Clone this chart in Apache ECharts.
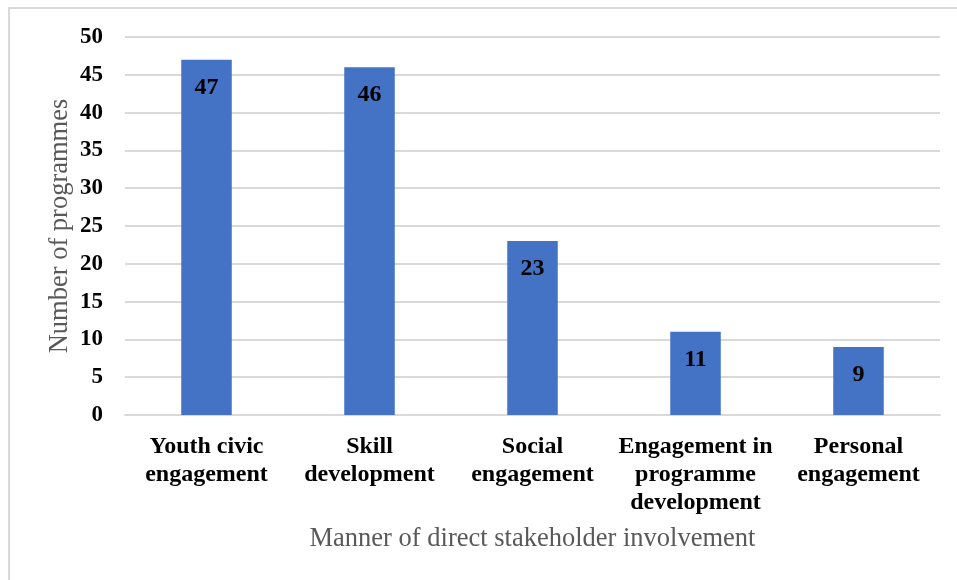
<!DOCTYPE html>
<html>
<head>
<meta charset="utf-8">
<script src="https://cdn.jsdelivr.net/npm/echarts@6/dist/echarts.min.js"></script>
<style>
  html, body { margin: 0; padding: 0; background: #fff; }
  #chart { width: 957px; height: 580px; }
</style>
</head>
<body>
<div id="chart"></div>
<script>
// Programmes by manner of direct stakeholder involvement
const categories = [
  'Youth civic\nengagement',
  'Skill\ndevelopment',
  'Social\nengagement',
  'Engagement in\nprogramme\ndevelopment',
  'Personal\nengagement'
];
const programmeCounts = [47, 46, 23, 11, 9];
const yTicks = { min: 0, max: 50, interval: 5 };

const serif = '"Liberation Serif", "Times New Roman", serif';

const chart = echarts.init(document.getElementById('chart'));
chart.setOption({
  animation: false,
  backgroundColor: '#ffffff',
  graphic: [
    { type: 'line', shape: { x1: 8, y1: 8, x2: 957, y2: 8 }, style: { stroke: '#d9d9d9', lineWidth: 2 } },
    { type: 'line', shape: { x1: 9, y1: 8, x2: 9, y2: 580 }, style: { stroke: '#d9d9d9', lineWidth: 2 } }
  ],
  grid: { left: 125, right: 17, top: 37, bottom: 165, containLabel: false },
  xAxis: {
    type: 'category',
    data: categories,
    axisLine: { show: true, lineStyle: { color: '#d9d9d9', width: 2 } },
    axisTick: { show: false },
    axisLabel: {
      interval: 0,
      margin: 18,
      fontFamily: serif,
      fontWeight: 'bold',
      fontSize: 24,
      lineHeight: 28,
      color: '#000'
    },
    name: 'Manner of direct stakeholder involvement',
    nameLocation: 'middle',
    nameGap: 111,
    nameTextStyle: { fontFamily: serif, fontSize: 26.5, color: '#595959' }
  },
  yAxis: {
    type: 'value',
    min: yTicks.min,
    max: yTicks.max,
    interval: yTicks.interval,
    axisLine: { show: false },
    axisTick: { show: false },
    splitLine: { lineStyle: { color: '#d9d9d9', width: 2 } },
    axisLabel: {
      margin: 22,
      fontFamily: serif,
      fontWeight: 'bold',
      fontSize: 23,
      color: '#000'
    },
    name: 'Number of programmes',
    nameLocation: 'middle',
    nameMoveOverlap: false,
    nameGap: 51,
    nameRotate: 90,
    nameTextStyle: { fontFamily: serif, fontSize: 26.5, color: '#595959' }
  },
  series: [{
    type: 'bar',
    data: programmeCounts,
    barWidth: '31%',
    itemStyle: { color: '#4472C4' },
    label: {
      show: true,
      position: 'insideTop',
      distance: 16,
      fontFamily: serif,
      fontWeight: 'bold',
      fontSize: 24,
      color: '#000'
    }
  }]
});
</script>
</body>
</html>
